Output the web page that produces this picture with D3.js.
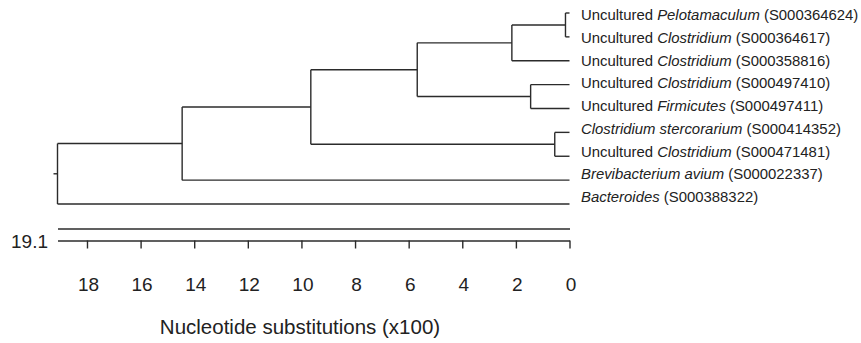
<!DOCTYPE html>
<html>
<head>
<meta charset="utf-8">
<script src="https://cdn.jsdelivr.net/npm/d3@7"></script>
<style>
	body { margin: 0; background: #fff; }
	svg { display: block; font-family: "Liberation Sans", Arial, sans-serif; }
	.branch { stroke: #2b2b2b; stroke-width: 1.4; fill: none; }
	.leaf-label { font-size: 14.9px; fill: #222; }
	.scale .domain { stroke: #2b2b2b; stroke-width: 1.4; }
	.scale .tick line { stroke: #2b2b2b; stroke-width: 1.4; }
	.scale .tick text { font-size: 19px; fill: #222; }
</style>
</head>
<body>
<script>

// leaf labels, top to bottom
var prefixes = ["Uncultured ", "Uncultured ", "Uncultured ", "Uncultured ", "Uncultured ", "", "Uncultured ", "", ""];
var genera = ["Pelotamaculum", "Clostridium", "Clostridium", "Clostridium", "Firmicutes",
	"Clostridium stercorarium", "Clostridium", "Brevibacterium avium", "Bacteroides"];
var accessions = ["S000364624", "S000364617", "S000358816", "S000497410", "S000497411",
	"S000414352", "S000471481", "S000022337", "S000388322"];

// clusters: [name, first child, second child, height in substitutions (x100)]
// numbers 0..8 are leaves, "n.." refers to a cluster defined above
var clusters = [
	["n1", 0, 1, 0.15],
	["n2", "n1", 2, 2.15],
	["n3", 3, 4, 1.45],
	["n4", "n2", "n3", 5.68],
	["n5", 5, 6, 0.55],
	["n6", "n4", "n5", 9.65],
	["n7", "n6", 7, 14.45],
	["root", "n7", 8, 19.1]
];

var axisTicks = [18, 16, 14, 12, 10, 8, 6, 4, 2, 0];
var rootHeight = 19.1;
var axisTitle = "Nucleotide substitutions (x100)";


var width = 861, height = 343;

var svg = d3.select("body").append("svg")
	.attr("width", width)
	.attr("height", height);

var x = d3.scaleLinear().domain([rootHeight, 0]).range([57.5, 569.5]);
var yLeaf = d3.scalePoint().domain(d3.range(genera.length)).range([13, 204]);
var yLabel = d3.scalePoint().domain(d3.range(genera.length)).range([15, 197]);


// build the nested tree for d3.hierarchy
var byName = {};
clusters.forEach(function(c)
{
	var kids = [c[1], c[2]].map(function(k)
	{
		return typeof k === "number" ? { leaf: k, h: 0 } : byName[k];
	});
	byName[c[0]] = { name: c[0], h: c[3], children: kids };
});

var root = d3.hierarchy(byName["root"]);

root.eachAfter(function(d)
{
	if (d.children)
		d.y = d3.mean(d.children, function(c) { return c.y; });
	else
		d.y = yLeaf(d.data.leaf);
});


var branches = svg.append("g").attr("class", "branches");

root.each(function(d)
{
	if (!d.children) return;
	var px = x(d.data.h);
	var ys = d.children.map(function(c) { return c.y; });

	branches.append("line").attr("class", "branch")
		.attr("x1", px).attr("x2", px)
		.attr("y1", d3.min(ys)).attr("y2", d3.max(ys));

	d.children.forEach(function(c)
	{
		branches.append("line").attr("class", "branch")
			.attr("x1", px).attr("x2", x(c.data.h))
			.attr("y1", c.y).attr("y2", c.y);
	});
});

// little stub on the root
branches.append("line").attr("class", "branch")
	.attr("x1", x(rootHeight) - 4).attr("x2", x(rootHeight))
	.attr("y1", root.y).attr("y2", root.y);


var labels = svg.append("g").attr("class", "labels");

genera.forEach(function(g, i)
{
	var t = labels.append("text")
		.attr("class", "leaf-label")
		.attr("x", 581)
		.attr("y", yLabel(i))
		.attr("dy", "0.35em");
	if (prefixes[i]) t.append("tspan").text(prefixes[i]);
	t.append("tspan").style("font-style", "italic").text(g);
	t.append("tspan").text(" (" + accessions[i] + ")");
});


// scale bar: plain top rule, ticked bottom rule
svg.append("g")
	.attr("class", "scale")
	.attr("transform", "translate(0,228.5)")
	.call(d3.axisTop(x).tickValues([]).tickSizeOuter(0));

var bottom = svg.append("g")
	.attr("class", "scale")
	.attr("transform", "translate(0,240.5)")
	.call(d3.axisBottom(x).tickValues(axisTicks).tickSize(8).tickSizeOuter(0)
		.tickFormat(d3.format("d")));

bottom.selectAll(".tick text")
	.attr("x", 1)
	.attr("y", 44)
	.attr("dy", "0.35em");

svg.append("text")
	.attr("x", 48)
	.attr("y", 241)
	.attr("dy", "0.35em")
	.attr("text-anchor", "end")
	.style("font-size", "19px")
	.style("fill", "#222")
	.text(rootHeight);

svg.append("text")
	.attr("x", 300)
	.attr("y", 327)
	.attr("dy", "0.35em")
	.attr("text-anchor", "middle")
	.style("font-size", "20.5px")
	.style("fill", "#222")
	.text(axisTitle);

</script>
</body>
</html>
